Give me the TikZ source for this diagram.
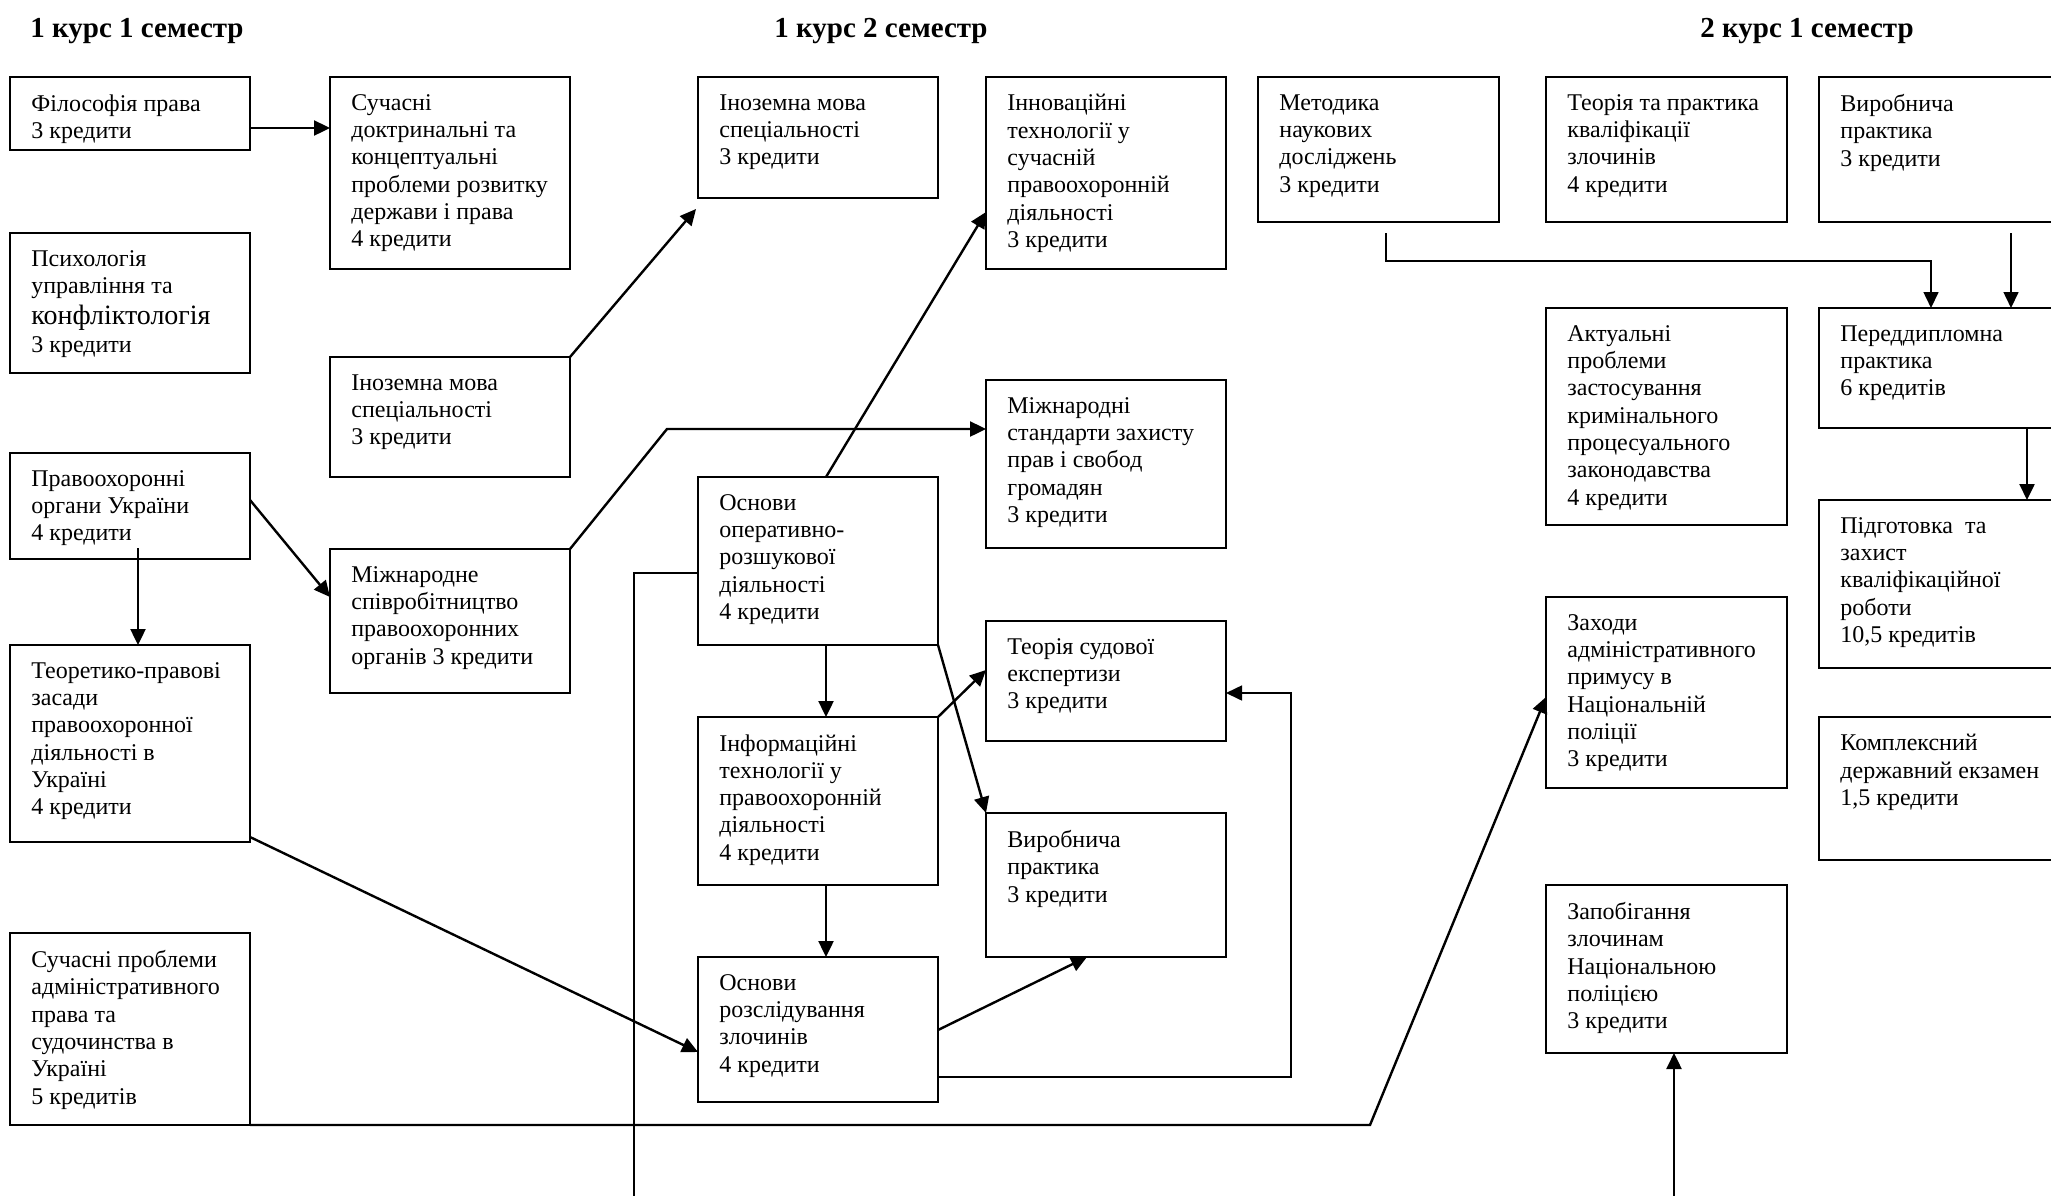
\documentclass[tikz,border=0pt]{standalone}
\usepackage{fontspec}
\setmainfont{Liberation Serif}
\usetikzlibrary{arrows.meta}
\newcommand\crsbox[6]{%
  \node[box, minimum width=#4*0.5pt, minimum height=#5*0.5pt] (#1) at (#2,#3) {};
  \node[btext] (#1-t) at ([shift={(21,17)}]#1.north west) {#6};
}
\begin{document}
\begin{tikzpicture}[x=0.5pt,y=-0.5pt,
  box/.style={draw, line width=1.2pt, anchor=north west, inner sep=0pt, outer sep=0pt},
  btext/.style={anchor=north west, inner sep=0pt, align=left, font=\fontsize{12}{13.65}\selectfont},
  ttl/.style={anchor=base west, inner sep=0pt, font=\bfseries\fontsize{14.5}{16}\selectfont},
  arr/.style={line width=1.2pt, -{Triangle[length=8pt,width=7.5pt]}},
  thinl/.style={line width=0.8pt}]
\useasboundingbox[fill=white] (0,0) rectangle (2051,1195);
\clip (0,0) rectangle (2051,1195);

% titles
\node[ttl] (t1) at (30,37) {1 курс 1 семестр};
\node[ttl] (t2) at (774,37) {1 курс 2 семестр};
\node[ttl] (t3) at (1700,37) {2 курс 1 семестр};

% column 1
\crsbox{fil}{10}{77}{240}{73}{Філософія права\\3 кредити}
\crsbox{psy}{10}{233}{240}{140}{Психологія\\управління та\\[2pt]{\fontsize{14}{16}\selectfont конфліктологія}\\3 кредити}
\crsbox{pravo}{10}{453}{240}{106}{Правоохоронні\\органи України\\4 кредити}
\crsbox{teor}{10}{645}{240}{197}{Теоретико-правові\\засади\\правоохоронної\\діяльності в\\Україні\\4 кредити}
\crsbox{spa}{10}{933}{240}{192}{Сучасні проблеми\\адміністративного\\права та\\судочинства в\\Україні\\5 кредитів}

% column 2
\crsbox{doct}{330}{77}{240}{192}{Сучасні\\доктринальні та\\концептуальні\\проблеми розвитку\\держави і права\\4 кредити}
\crsbox{ino1}{330}{357}{240}{120}{Іноземна мова\\спеціальності\\3 кредити}
\crsbox{mizh}{330}{549}{240}{144}{Міжнародне\\співробітництво\\правоохоронних\\органів 3 кредити}

% column 3
\crsbox{ino2}{698}{77}{240}{121}{Іноземна мова\\спеціальності\\3 кредити}
\crsbox{ord}{698}{477}{240}{168}{Основи\\оперативно-\\розшукової\\діяльності\\4 кредити}
\crsbox{inf}{698}{717}{240}{168}{Інформаційні\\технології у\\правоохоронній\\діяльності\\4 кредити}
\crsbox{osr}{698}{957}{240}{145}{Основи\\розслідування\\злочинів\\4 кредити}

% column 4
\crsbox{innov}{986}{77}{240}{192}{Інноваційні\\технології у\\сучасній\\правоохоронній\\діяльності\\3 кредити}
\crsbox{stand}{986}{380}{240}{168}{Міжнародні\\стандарти захисту\\прав і свобод\\громадян\\3 кредити}
\crsbox{sud}{986}{621}{240}{120}{Теорія судової\\експертизи\\3 кредити}
\crsbox{vyr1}{986}{813}{240}{144}{Виробнича\\практика\\3 кредити}

% column 5
\crsbox{met}{1258}{77}{241}{145}{Методика\\наукових\\досліджень\\3 кредити}

% column 6
\crsbox{kval}{1546}{77}{241}{145}{Теорія та практика\\кваліфікації\\злочинів\\4 кредити}
\crsbox{akt}{1546}{308}{241}{217}{Актуальні\\проблеми\\застосування\\кримінального\\процесуального\\законодавства\\4 кредити}
\crsbox{zah}{1546}{597}{241}{191}{Заходи\\адміністративного\\примусу в\\Національній\\поліції\\3 кредити}
\crsbox{zap}{1546}{885}{241}{168}{Запобігання\\злочинам\\Національною\\поліцією\\3 кредити}

% column 7 (cut by the right edge)
\crsbox{vyr2}{1819}{77}{240}{145}{Виробнича\\практика\\3 кредити}
\crsbox{pered}{1819}{308}{240}{120}{Переддипломна\\практика\\6 кредитів}
\crsbox{pidg}{1819}{500}{240}{168}{Підготовка\ \ та\\захист\\кваліфікаційної\\роботи\\10,5 кредитів}
\crsbox{kompl}{1819}{717}{240}{143}{Комплексний\\державний екзамен\\1,5 кредити}

% free ends
\coordinate (ordout) at (634,1200);
\coordinate (metout) at (1386,233);
\coordinate (vyrout) at (2011,233);
\coordinate (zapin) at (1674,1200);

% connectors
\draw[arr] (fil.east |- 0,128) -- (doct.west |- 0,128);
\draw[arr] (ino1.north east) -- ([shift={(-2,11)}]ino2.south west);
\draw[arr] ([shift={(8,-11)}]pravo.south) -- ([xshift=4pt]teor.north);
\draw[arr] (pravo.east |- 0,500) -- (mizh.west |- 0,597);
\draw[arr] (mizh.north east) -- (667,429) -- (stand.west |- 0,429);
\draw[arr] ([yshift=2.5pt]teor.south east) -- (osr.west |- 0,1052);
\draw[arr] (spa.south east) -- (1370,1125) -- (zah.west |- 0,697);
\draw[thinl] (ord.west |- 0,573) -- (634,573) -- (ordout);
\draw[arr] ([xshift=4pt]ord.north) -- (innov.west |- 0,212);
\draw[arr] ([xshift=4pt]ord.south) -- ([xshift=4pt]inf.north);
\draw[arr] (ord.south east) -- (vyr1.north west);
\draw[arr] (inf.north east) -- (sud.west |- 0,670);
\draw[arr] ([xshift=4pt]inf.south) -- ([xshift=4pt]osr.north);
\draw[arr] (osr.east |- 0,1030) -- (vyr1.south -| 1087,0);
\draw[arr, thinl] (osr.east |- 0,1077) -- (1291,1077) -- (1291,693) -- (sud.east |- 0,693);
\draw[arr, thinl] (metout) -- (1386,261) -| (pered.north -| 1931,0);
\draw[arr, thinl] (vyrout) -- (pered.north -| 2011,0);
\draw[arr] (pered.south -| 2027,0) -- (pidg.north -| 2027,0);
\draw[arr] (zapin) -- (zap.south -| 1674,0);
\end{tikzpicture}
\end{document}
